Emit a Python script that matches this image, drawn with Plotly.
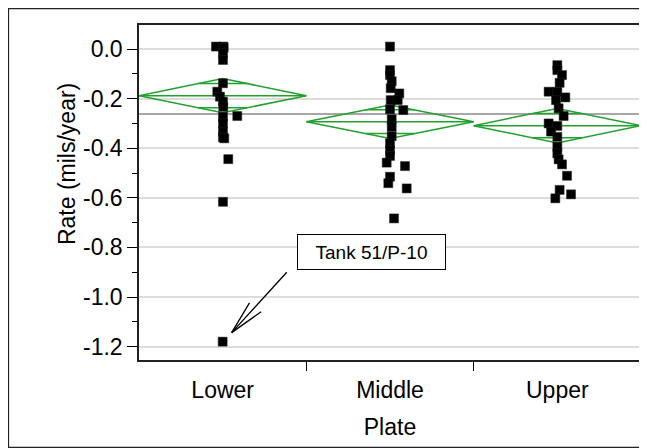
import math
import plotly.graph_objects as go

# ---------------- data ----------------
categories = ["Lower", "Middle", "Upper"]

lower_rate = [0.01, 0.01, 0.005, -0.017, -0.044, -0.138, -0.172, -0.192, -0.212, -0.233,
              -0.27, -0.273, -0.30, -0.333, -0.356, -0.36, -0.444, -0.616, -1.18]
lower_jitter_px = [-6.7, 0.7, 1.0, 0.3, 0.3, 0.3, -5.4, -2.7, 0.3, 0.6,
                   14.6, 0.3, 0.3, 0.3, 0.3, 1.6, 5.6, 0.3, 0.0]

middle_rate = [0.01, -0.085, -0.105, -0.13, -0.158, -0.179, -0.206, -0.206, -0.243, -0.246,
               -0.283, -0.313, -0.351, -0.38, -0.407, -0.431, -0.458, -0.472, -0.515, -0.541,
               -0.562, -0.683]
middle_jitter_px = [0, 0, 0, 1.7, 0.7, 9.3, 0.7, 7.7, 0, 13.3,
                    1.7, 1.7, 1.7, 0, 0, 0, -3.3, 15, 0, -1.7,
                    16.7, 4]

upper_rate = [-0.065, -0.085, -0.105, -0.136, -0.172, -0.172, -0.195, -0.206, -0.239, -0.27,
              -0.30, -0.31, -0.333, -0.354, -0.394, -0.421, -0.445, -0.465, -0.511, -0.568,
              -0.602, -0.586]
upper_jitter_px = [0, 0, 4.7, 2.3, -8.7, 0, 8, -1.3, 1.3, 6.3,
                   -8.7, 0, -6.3, 0, 0, 0, 1.3, 4.7, 9.7, 2.3,
                   -2, 13.7]

group_means = [-0.188, -0.293, -0.309]
group_ci_half = [0.069, 0.0675, 0.0695]
grand_mean = -0.262

y_tickvals = [0.0, -0.2, -0.4, -0.6, -0.8, -1.0, -1.2]
y_ticktext = ["0.0", "-0.2", "-0.4", "-0.6", "-0.8", "-1.0", "-1.2"]

outlier_label = "Tank 51/P-10"
x_title = "Plate"
y_title = "Rate (mils/year)"

# ---------------- styling ----------------
FONT = "Liberation Sans, Arial, sans-serif"
GREEN = "#22a02e"
PX_PER_CAT = 167.33  # pixel width of one category on the x axis

fig = go.Figure()

# grand mean line
fig.add_trace(go.Scatter(x=[-0.5, 2.5], y=[grand_mean, grand_mean], mode="lines",
                         line=dict(color="#8a8a8a", width=1.5), hoverinfo="skip",
                         showlegend=False))

# means diamonds
ov = 1 / math.sqrt(2)
for i, (m, h) in enumerate(zip(group_means, group_ci_half)):
    fig.add_trace(go.Scatter(x=[i - 0.5, i, i + 0.5, i, i - 0.5],
                             y=[m, m + h, m, m - h, m], mode="lines",
                             line=dict(color=GREEN, width=1.5), hoverinfo="skip",
                             showlegend=False))
    fig.add_trace(go.Scatter(x=[i - 0.5, i + 0.5], y=[m, m], mode="lines",
                             line=dict(color=GREEN, width=1.5), hoverinfo="skip",
                             showlegend=False))
    half = 0.5 * (1 - ov)
    for s in (1, -1):
        fig.add_trace(go.Scatter(x=[i - half, i + half], y=[m + s * h * ov] * 2,
                                 mode="lines", line=dict(color=GREEN, width=1.5),
                                 hoverinfo="skip", showlegend=False))

# points
for i, (rates, jit) in enumerate([(lower_rate, lower_jitter_px),
                                  (middle_rate, middle_jitter_px),
                                  (upper_rate, upper_jitter_px)]):
    fig.add_trace(go.Scatter(x=[i + j / PX_PER_CAT for j in jit], y=rates, mode="markers",
                             marker=dict(symbol="square", size=9, color="black",
                                         line=dict(color="#222", width=0.5)),
                             name=categories[i], showlegend=False))

# outlier annotation: arrow shaft and open arrowhead arms
out_idx = lower_rate.index(min(lower_rate))
ox = 0 + lower_jitter_px[out_idx] / PX_PER_CAT
oy = lower_rate[out_idx]
for ax, ay in [(56.6, -62.0), (19.0, -31.7), (31.0, -22.0)]:
    fig.add_annotation(x=ox, y=oy, xref="x", yref="y", text=" ", showarrow=True,
                       arrowhead=0, arrowwidth=1.3, arrowcolor="black",
                       ax=ax, ay=ay, xshift=9, yshift=9, font=dict(size=1))

fig.add_annotation(x=0.89, y=-0.8175, xref="x", yref="y", text=outlier_label,
                   showarrow=False, font=dict(family=FONT, size=19, color="black"),
                   bgcolor="white", bordercolor="black", borderwidth=1, borderpad=1,
                   width=145, height=32, align="center")

# y axis title (placed above the axis centre, as in the reference)
fig.add_annotation(x=-0.1434, y=0.585, xref="paper", yref="paper", text=y_title,
                   showarrow=False, textangle=-90, xanchor="center", yanchor="middle",
                   font=dict(family=FONT, size=23, color="black"))

# outer frame (figure border, right side runs off the picture)
fig.add_shape(type="rect", xref="paper", yref="paper", x0=-0.2600, x1=1.06,
              y0=-0.2606, y1=1.049, line=dict(color="#222", width=1.3),
              fillcolor="rgba(0,0,0,0)", layer="below")

fig.update_layout(
    width=647, height=448,
    margin=dict(l=131, r=14, t=17, b=96),
    paper_bgcolor="white", plot_bgcolor="white",
    font=dict(family=FONT, size=23, color="black"),
    showlegend=False,
)

fig.update_xaxes(
    range=[-0.5, 2.5], tickmode="array", tickvals=[0, 1, 2], ticktext=categories,
    ticks="outside", ticklen=9, tickcolor="rgba(0,0,0,0)",
    minor=dict(ticks="outside", tickmode="array", tickvals=[0.5, 1.5], ticklen=9,
               tickcolor="black", tickwidth=1.3, showgrid=False),
    showline=True, linecolor="#222", linewidth=1.5, mirror=True,
    showgrid=False, zeroline=False,
    title=dict(text=x_title, font=dict(size=23), standoff=17),
    tickfont=dict(size=23),
)

fig.update_yaxes(
    range=[-1.254, 0.097], tickmode="array", tickvals=y_tickvals, ticktext=y_ticktext,
    ticks="outside", ticklen=10, tickwidth=1.3, tickcolor="black",
    minor=dict(ticks="outside", tickmode="linear", tick0=0, dtick=0.1, ticklen=5,
               tickwidth=1.3, tickcolor="black", showgrid=False),
    showline=True, linecolor="#222", linewidth=1.5, mirror=True,
    showgrid=True, gridcolor="#dcdcdc", gridwidth=1.5, zeroline=False,
    tickfont=dict(size=23),
)

fig.write_html("out.html")
